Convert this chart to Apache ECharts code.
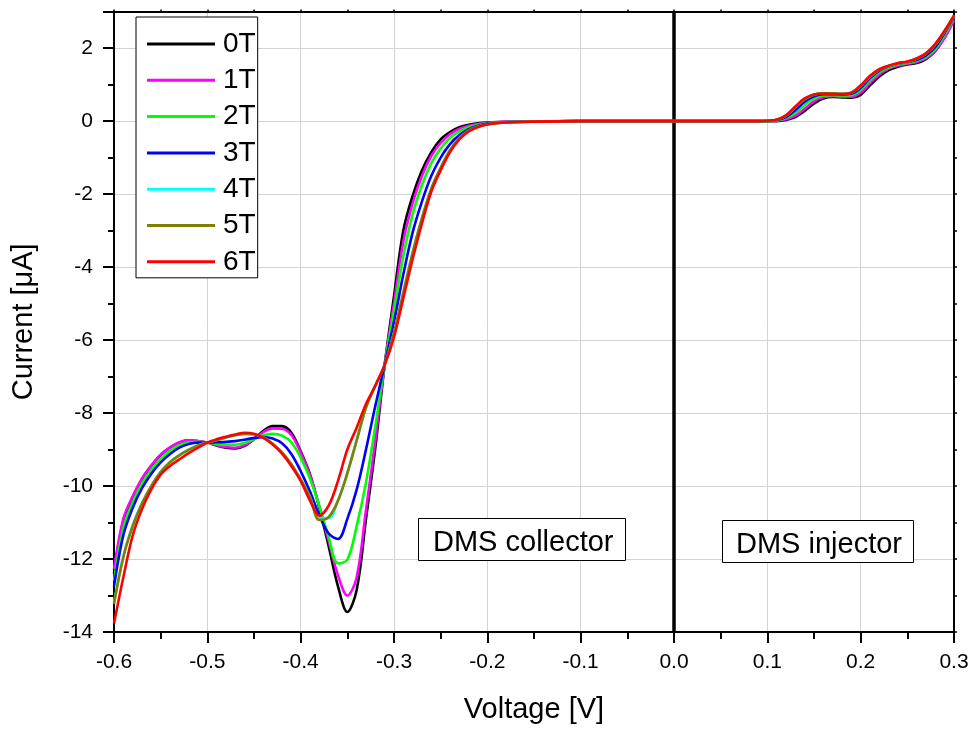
<!DOCTYPE html>
<html>
<head>
<meta charset="utf-8">
<script src="https://cdn.jsdelivr.net/npm/echarts@6/dist/echarts.min.js"></script>
<style>
html,body{margin:0;padding:0;background:#fff;}
#chart{width:973px;height:729px;}
</style>
</head>
<body>
<div id="chart"></div>
<script>
// Voltage samples (V)
const voltage = [
 -0.60,-0.59,-0.58,-0.57,-0.56,-0.55,-0.54,-0.53,-0.52,-0.51,
 -0.50,-0.49,-0.48,-0.47,-0.46,-0.45,-0.44,-0.43,-0.42,-0.41,
 -0.40,-0.39,-0.38,-0.37,-0.36,-0.35,-0.34,-0.33,-0.32,-0.31,
 -0.30,-0.29,-0.28,-0.27,-0.26,-0.25,-0.24,-0.23,-0.22,-0.21,
 -0.20,-0.18,-0.15,-0.10,-0.05,0.00,0.05,0.08,0.09,0.10,
 0.11,0.12,0.13,0.14,0.15,0.16,0.17,0.18,0.19,0.20,
 0.21,0.22,0.23,0.24,0.25,0.26,0.27,0.28,0.29,0.30
];
// Current (uA) per field
const i0T = [
 -12.40,-10.95,-10.31,-9.81,-9.45,-9.15,-8.95,-8.81,-8.75,-8.77,
 -8.81,-8.89,-8.95,-8.97,-8.90,-8.72,-8.49,-8.36,-8.36,-8.54,
 -9.05,-9.68,-10.60,-11.65,-12.75,-13.45,-12.85,-10.90,-8.95,-6.68,
 -4.80,-3.00,-2.05,-1.35,-0.85,-0.50,-0.30,-0.17,-0.10,-0.06,
 -0.04,-0.02,-0.01,0,0,0,0,0,0,0.0,
 0.0,0.03,0.11,0.28,0.48,0.62,0.66,0.65,0.64,0.72,
 0.98,1.22,1.40,1.49,1.55,1.59,1.70,1.92,2.30,2.82
];
const i1T = [
 -12.27,-10.90,-10.28,-9.79,-9.43,-9.14,-8.94,-8.80,-8.75,-8.77,
 -8.81,-8.88,-8.93,-8.95,-8.88,-8.72,-8.52,-8.42,-8.43,-8.60,
 -9.08,-9.70,-10.55,-11.50,-12.45,-13.00,-12.50,-10.65,-8.75,-6.68,
 -5.00,-3.30,-2.25,-1.50,-0.95,-0.60,-0.36,-0.21,-0.13,-0.08,
 -0.05,-0.02,-0.01,0,0,0,0,0,0,0.0,
 0.01,0.05,0.15,0.34,0.54,0.65,0.68,0.67,0.67,0.78,
 1.04,1.28,1.44,1.52,1.57,1.62,1.72,1.93,2.28,2.76
];
const i2T = [
 -12.60,-11.15,-10.45,-9.93,-9.55,-9.25,-9.03,-8.88,-8.80,-8.79,
 -8.81,-8.85,-8.87,-8.87,-8.82,-8.72,-8.61,-8.57,-8.62,-8.80,
 -9.22,-9.80,-10.55,-11.40,-12.12,-12.02,-11.10,-9.90,-8.35,-6.68,
 -5.20,-3.70,-2.55,-1.75,-1.15,-0.75,-0.46,-0.28,-0.17,-0.10,
 -0.06,-0.03,-0.01,0,0,0,0,0,0,0.0,
 0.02,0.08,0.22,0.44,0.62,0.70,0.71,0.70,0.71,0.85,
 1.12,1.34,1.47,1.55,1.59,1.65,1.76,1.98,2.36,2.84
];
const i3T = [
 -12.75,-11.35,-10.60,-10.06,-9.66,-9.35,-9.12,-8.95,-8.85,-8.81,
 -8.81,-8.80,-8.79,-8.77,-8.73,-8.68,-8.66,-8.70,-8.83,-9.12,
 -9.59,-10.15,-10.80,-11.30,-11.45,-10.90,-10.10,-9.00,-7.80,-6.68,
 -5.50,-4.20,-3.05,-2.20,-1.50,-1.00,-0.63,-0.38,-0.22,-0.13,
 -0.07,-0.03,-0.01,0,0,0,0,0,0,0.0,
 0.03,0.11,0.30,0.53,0.68,0.74,0.74,0.73,0.75,0.91,
 1.18,1.38,1.50,1.57,1.61,1.68,1.80,2.03,2.42,2.86
];
const i4T = [
 -13.20,-11.92,-11.08,-10.47,-9.99,-9.61,-9.34,-9.15,-9.00,-8.89,
 -8.81,-8.74,-8.67,-8.61,-8.57,-8.58,-8.67,-8.84,-9.08,-9.40,
 -9.82,-10.30,-10.88,-10.88,-10.40,-9.65,-8.75,-7.85,-7.25,-6.68,
 -5.80,-4.70,-3.60,-2.65,-1.85,-1.28,-0.80,-0.47,-0.26,-0.15,
 -0.085,-0.035,-0.012,0,0,0,0,0,0,0.0,
 0.04,0.15,0.38,0.60,0.73,0.76,0.76,0.75,0.78,0.96,
 1.22,1.41,1.51,1.58,1.62,1.71,1.85,2.10,2.46,2.89
];
const i5T = [
 -13.23,-11.95,-11.10,-10.48,-10.00,-9.62,-9.35,-9.16,-9.01,-8.89,
 -8.81,-8.74,-8.67,-8.61,-8.57,-8.58,-8.67,-8.84,-9.08,-9.40,
 -9.82,-10.30,-10.93,-10.85,-10.40,-9.65,-8.75,-7.85,-7.25,-6.68,
 -5.80,-4.70,-3.60,-2.65,-1.85,-1.28,-0.80,-0.47,-0.26,-0.15,
 -0.085,-0.035,-0.012,0,0,0,0,0,0,0.0,
 0.04,0.15,0.38,0.60,0.73,0.76,0.76,0.75,0.78,0.96,
 1.22,1.41,1.51,1.58,1.62,1.71,1.85,2.10,2.46,2.90
];
const i6T = [
 -13.77,-12.50,-11.36,-10.63,-10.09,-9.69,-9.45,-9.27,-9.10,-8.95,
 -8.81,-8.72,-8.65,-8.59,-8.54,-8.57,-8.68,-8.86,-9.11,-9.45,
 -9.86,-10.40,-10.81,-10.54,-9.86,-9.00,-8.40,-7.75,-7.25,-6.68,
 -5.92,-4.85,-3.78,-2.80,-1.93,-1.35,-0.85,-0.50,-0.28,-0.16,
 -0.09,-0.04,-0.015,0,0,0,0,0,0,0.01,
 0.04,0.16,0.40,0.62,0.73,0.75,0.74,0.74,0.78,0.98,
 1.24,1.42,1.52,1.59,1.63,1.72,1.86,2.12,2.48,2.88
];
const seriesNames = ['0T','1T','2T','3T','4T','5T','6T'];
const seriesValues = [i0T,i1T,i2T,i3T,i4T,i5T,i6T];
const seriesColors = ['#000000','#ff00ff','#00ff00','#0000ff','#00ffff','#808000','#ff0000'];
const annotations = ['DMS collector','DMS injector'];

const FONT = '"Liberation Sans", Arial, sans-serif';
const chart = echarts.init(document.getElementById('chart'), null, {renderer:'canvas'});

const series = seriesNames.map((name, k) => ({
  name: name,
  type: 'line',
  xAxisIndex: 0, yAxisIndex: 0,
  data: voltage.map((v, i) => [v, seriesValues[k][i]]),
  symbol: 'none',
  smooth: 0.35,
  lineStyle: {color: seriesColors[k], width: 2.6},
  itemStyle: {color: seriesColors[k]},
  z: 3 + k,
  markLine: k === 0 ? {
    silent: true, symbol: 'none', label: {show: false},
    lineStyle: {color: '#000', width: 3.5, type: 'solid'},
    data: [{xAxis: 0}]
  } : undefined
}));

const axisLine = {show: true, onZero: false, lineStyle: {color: '#000', width: 2}};
chart.setOption({
  animation: false,
  backgroundColor: '#fff',
  grid: {left: 114, right: 19, top: 11.6, bottom: 94, containLabel: false},
  legend: {
    orient: 'vertical', left: 136, top: 17,
    data: seriesNames.map(n => ({name: n, icon: 'rect'})),
    itemWidth: 68, itemHeight: 3, itemGap: 6.3,
    padding: [12, 2, 1, 11],
    borderColor: '#000', borderWidth: 1, backgroundColor: '#fff',
    textStyle: {fontFamily: FONT, fontSize: 28, color: '#000', lineHeight: 30, padding: [0, 0, 0, 3]},
    selectedMode: false
  },
  xAxis: [{
    type: 'value', min: -0.6, max: 0.3, interval: 0.1, position: 'bottom',
    name: 'Voltage [V]', nameLocation: 'middle', nameGap: 63,
    nameTextStyle: {fontFamily: FONT, fontSize: 29, color: '#000'},
    axisLine: axisLine,
    axisTick: {show: true, inside: false, length: 11, lineStyle: {color: '#000', width: 2}},
    minorTick: {show: true, splitNumber: 2, length: 7, lineStyle: {color: '#000', width: 2}},
    axisLabel: {fontFamily: FONT, fontSize: 21, color: '#000', margin: 20,
      formatter: v => v.toFixed(1)},
    splitLine: {show: true, lineStyle: {color: '#d3d3d3', width: 1}}
  }, {
    type: 'value', min: -0.6, max: 0.3, interval: 0.1, position: 'top',
    axisLine: axisLine,
    axisTick: {show: true, inside: false, length: 2, lineStyle: {color: '#000', width: 1.5}},
    minorTick: {show: true, splitNumber: 2, length: 2, lineStyle: {color: '#000', width: 1.5}},
    axisLabel: {show: false}, splitLine: {show: false}
  }],
  yAxis: [{
    type: 'value', min: -14, max: 3, interval: 2, position: 'left',
    name: 'Current [\u03bcA]', nameLocation: 'middle', nameGap: 76, nameRotate: 90,
    nameTextStyle: {fontFamily: FONT, fontSize: 29, color: '#000'},
    axisLine: axisLine,
    axisTick: {show: true, inside: false, length: 11, lineStyle: {color: '#000', width: 2}},
    minorTick: {show: true, splitNumber: 2, length: 6, lineStyle: {color: '#000', width: 2}},
    axisLabel: {fontFamily: FONT, fontSize: 21, color: '#000', margin: 21,
      showMaxLabel: false},
    splitLine: {show: true, lineStyle: {color: '#d3d3d3', width: 1}}
  }, {
    type: 'value', min: -14, max: 3, interval: 2, position: 'right',
    axisLine: axisLine,
    axisTick: {show: true, inside: false, length: 3, lineStyle: {color: '#000', width: 1.5}},
    minorTick: {show: true, splitNumber: 2, length: 3, lineStyle: {color: '#000', width: 1.5}},
    axisLabel: {show: false}, splitLine: {show: false}
  }],
  graphic: [
    {type: 'rect', shape: {x: 418.5, y: 518.5, width: 207, height: 42},
     style: {fill: '#fff', stroke: '#000', lineWidth: 1}, z: 50},
    {type: 'text', x: 433, y: 543, z: 51,
     style: {text: annotations[0], font: '29px ' + FONT, fill: '#000', verticalAlign: 'middle'}},
    {type: 'rect', shape: {x: 722.5, y: 520.5, width: 191, height: 42},
     style: {fill: '#fff', stroke: '#000', lineWidth: 1}, z: 50},
    {type: 'text', x: 736, y: 545, z: 51,
     style: {text: annotations[1], font: '29px ' + FONT, fill: '#000', verticalAlign: 'middle'}}
  ],
  series: series
});
</script>
</body>
</html>
